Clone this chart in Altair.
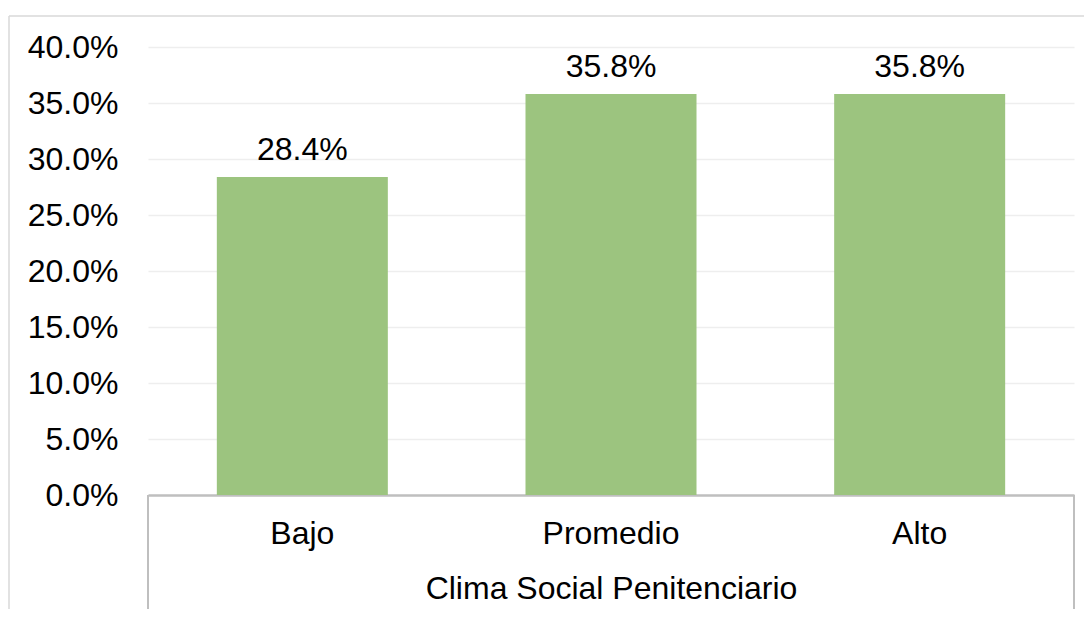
import altair as alt
import pandas as pd

categories = ["Bajo", "Promedio", "Alto"]
values = [0.284, 0.358, 0.358]
y_ticks = [0.0, 0.05, 0.10, 0.15, 0.20, 0.25, 0.30, 0.35, 0.40]
x_title = "Clima Social Penitenciario"

FONT = "Liberation Sans"
FS = 32
W, H = 926, 448
BAR = "#9CC47F"
LINE = "#BFBFBF"

df = pd.DataFrame({"categoria": categories, "porcentaje": values})

x_enc = alt.X(
    "categoria:N",
    sort=categories,
    scale=alt.Scale(paddingInner=0.446, paddingOuter=0.223),
    axis=alt.Axis(
        title=x_title,
        labelAngle=0,
        labelFont=FONT,
        labelFontSize=FS,
        labelColor="#000000",
        labelPadding=48,
        labelBaseline="alphabetic",
        ticks=False,
        tickSize=0,
        domainColor=LINE,
        domainWidth=2.5,
        titleFont=FONT,
        titleFontSize=FS,
        titleFontWeight="normal",
        titleColor="#000000",
        titleY=103,
        titleBaseline="alphabetic",
    ),
)
y_enc = alt.Y(
    "porcentaje:Q",
    scale=alt.Scale(domain=[0, 0.4]),
    axis=alt.Axis(
        values=y_ticks,
        format=".1%",
        title=None,
        grid=True,
        gridColor="#EEEEEE",
        gridWidth=1.5,
        domain=False,
        ticks=False,
        tickSize=0,
        labelPadding=30,
        labelFont=FONT,
        labelFontSize=FS,
        labelColor="#000000",
    ),
)

base = alt.Chart(df)
bars = base.mark_bar(color=BAR).encode(x=x_enc, y=y_enc)
labels = base.mark_text(
    dy=-17, baseline="alphabetic", font=FONT, fontSize=FS, color="#000000"
).encode(x=alt.X("categoria:N", sort=categories), y="porcentaje:Q",
         text=alt.Text("porcentaje:Q", format=".1%"))

dummy = alt.Chart(pd.DataFrame({"k": [0]}))
left_sep = dummy.mark_rule(color=LINE, strokeWidth=2).encode(
    x=alt.value(0), y=alt.value(H), y2=alt.value(H + 140))
right_sep = dummy.mark_rule(color=LINE, strokeWidth=2).encode(
    x=alt.value(W), y=alt.value(H), y2=alt.value(H + 140))
border_top = dummy.mark_rule(color="#D9D9D9", strokeWidth=1.5).encode(
    x=alt.value(-139), x2=alt.value(950), y=alt.value(-31))
border_left = dummy.mark_rule(color="#D9D9D9", strokeWidth=1.5).encode(
    x=alt.value(-139), y=alt.value(-31), y2=alt.value(H + 140))

chart = (
    alt.layer(border_top, border_left, bars, labels, left_sep, right_sep)
    .resolve_scale(x="shared")
    .properties(
        width=W,
        height=H,
        autosize=alt.AutoSizeParams(type="none"),
        padding={"left": 140, "top": 39, "right": 10, "bottom": 114},
        background="white",
    )
    .configure_view(strokeWidth=0)
)

chart.save("out.html", embed_options={"renderer": "svg", "actions": False})
